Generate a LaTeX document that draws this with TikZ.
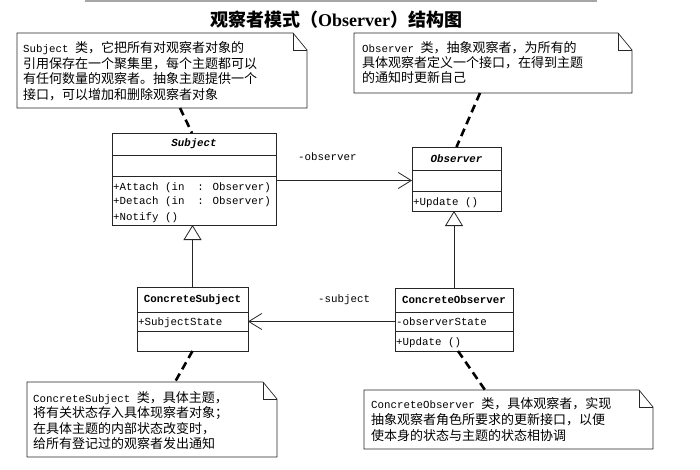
\documentclass[tikz,border=0pt]{standalone}
\usepackage{fontspec}
\setmainfont{Liberation Serif}
\newfontfamily\cjk{Noto Sans CJK SC}
\newfontfamily\lmn{Liberation Mono}
\usetikzlibrary{arrows.meta,calc}
\newcommand\zhtxt[1]{{\cjk\fontsize{13}{15}\selectfont #1}}
\newcommand\entxt[1]{{\lmn\fontsize{10.8}{15}\selectfont #1}}
\begin{document}
\begin{tikzpicture}[x=1pt,y=-1pt,
  box/.style={draw=black!85, line width=0.9pt, inner sep=0pt, outer sep=0pt, minimum width=#1},
  hdr/.style={font=\lmn\bfseries\fontsize{10.8}{12}\selectfont},
  hdri/.style={font=\lmn\bfseries\itshape\fontsize{10.8}{12}\selectfont},
  mem/.style={anchor=base west, inner sep=0pt, font=\lmn\fontsize{10.8}{12}\selectfont},
  nline/.style={anchor=base west, inner sep=0pt},
  notebg/.style={inner sep=0pt, outer sep=0pt},
  noteline/.style={draw=black!85, line width=0.7pt},
  dashconn/.style={draw=black, line width=2.6pt, dash pattern=on 8pt off 5pt},
  assoc/.style={draw=black!85, line width=0.8pt, -{Straight Barb[length=13pt,width=16pt]}},
  gen/.style={draw=black!85, line width=0.8pt, -{Triangle[open,length=15pt,width=18pt,fill=white]}}
]
\useasboundingbox (0,0) rectangle (700,470);
\fill[white] (0,0) rectangle (700,470);
\draw[gray!70, line width=2pt] (85,1) -- (597,1);

% title
\node[nline] (title) at (210,27) {\cjk\bfseries\fontsize{18}{20}\selectfont 观察者模式（{\rmfamily\bfseries Observer}）结构图};

% notes
\node[notebg, minimum width=290pt, minimum height=75pt] (note1) at (162,70.5) {};
\node[notebg, minimum width=278pt, minimum height=60pt] (note2) at (493,63) {};
\node[notebg, minimum width=250pt, minimum height=75pt] (note3) at (152,419.5) {};
\node[notebg, minimum width=289pt, minimum height=59pt] (note4) at (508.5,419.5) {};
\foreach \n in {note1,note2,note3,note4}{
  \draw[noteline] (\n.south west) -- (\n.north west) -- ([xshift=-14pt]\n.north east) -- ([yshift=-17pt]\n.north east) -- (\n.south east) -- cycle;
  \draw[noteline] ([xshift=-14pt]\n.north east) |- ([yshift=-17pt]\n.north east);
}

\node[nline] (n1a) at (23,53) {\entxt{Subject }\zhtxt{类，它把所有对观察者对象的}};
\node[nline] (n1b) at (23,68.5) {\zhtxt{引用保存在一个聚集里，每个主题都可以}};
\node[nline] (n1c) at (23,84) {\zhtxt{有任何数量的观察者。抽象主题提供一个}};
\node[nline] (n1d) at (23,99.5) {\zhtxt{接口，可以增加和删除观察者对象}};

\node[nline] (n2a) at (362,53) {\entxt{Observer }\zhtxt{类，抽象观察者，为所有的}};
\node[nline] (n2b) at (362,68) {\zhtxt{具体观察者定义一个接口，在得到主题}};
\node[nline] (n2c) at (362,83) {\zhtxt{的通知时更新自己}};

\node[nline] (n3a) at (33,402.5) {\entxt{ConcreteSubject }\zhtxt{类，具体主题，}};
\node[nline] (n3b) at (33,417.5) {\zhtxt{将有关状态存入具体现察者对象；}};
\node[nline] (n3c) at (33,433) {\zhtxt{在具体主题的内部状态改变时，}};
\node[nline] (n3d) at (33,448) {\zhtxt{给所有登记过的观察者发出通知}};

\node[nline] (n4a) at (371,408.5) {\entxt{ConcreteObserver }\zhtxt{类，具体观察者，实现}};
\node[nline] (n4b) at (371,424.5) {\zhtxt{抽象观察者角色所要求的更新接口，以便}};
\node[nline] (n4c) at (371,440.5) {\zhtxt{使本身的状态与主题的状态相协调}};

% Subject
\node[box=164pt, minimum height=22pt, hdri] (subjH) at (194,144) {Subject};
\node[box=164pt, minimum height=21pt] (subjA) at (194,165.5) {};
\node[box=164pt, minimum height=49pt] (subjM) at (194,200.5) {};
\node[mem] (sm1) at (113,190) {+Attach (in~~: Observer)};
\node[mem] (sm2) at (113,204.5) {+Detach (in~~: Observer)};
\node[mem] (sm3) at (113,220) {+Notify ()};

% Observer
\node[box=89pt, minimum height=23pt, hdri] (obsH) at (456.5,158.5) {Observer};
\node[box=89pt, minimum height=21pt] (obsA) at (456.5,180.5) {};
\node[box=89pt, minimum height=20pt] (obsM) at (456.5,201) {};
\node[mem] (om1) at (413,205) {+Update ()};

% ConcreteSubject
\node[box=111pt, minimum height=25pt, hdr] (csH) at (192.5,299.5) {ConcreteSubject};
\node[box=111pt, minimum height=19pt] (csA) at (192.5,321.5) {};
\node[box=111pt, minimum height=20pt] (csM) at (192.5,341) {};
\node[mem] (ca1) at (138,325) {+SubjectState};

% ConcreteObserver
\node[box=118pt, minimum height=24pt, hdr] (coH) at (454,300) {ConcreteObserver};
\node[box=118pt, minimum height=19pt] (coA) at (454,321.5) {};
\node[box=118pt, minimum height=20pt] (coM) at (454,341) {};
\node[mem] (co1) at (396,325) {-observerState};
\node[mem] (co2) at (396,345) {+Update ()};

% connectors
\draw[assoc] (subjM.east |- obsA.west) -- (obsA.west);
\node[mem] (lobs) at (298,161) {-observer};
\draw[assoc] (coA.west) -- (csA.east);
\node[mem] (lsub) at (318,302) {-subject};
\draw[gen] (csH.north) -- (csH.north |- subjM.south);
\draw[gen] (coH.north) -- (coH.north |- obsM.south);

\draw[dashconn] ([xshift=18pt]note1.south) -- ([xshift=-2pt]subjH.north);
\draw[dashconn] ([xshift=-13pt]note2.south) -- (obsH.north);
\draw[dashconn] (csM.south) -- ([xshift=23pt]note3.north);
\draw[dashconn] ([xshift=4pt]coM.south) -- ([xshift=-23.5pt]note4.north);
\end{tikzpicture}
\end{document}
